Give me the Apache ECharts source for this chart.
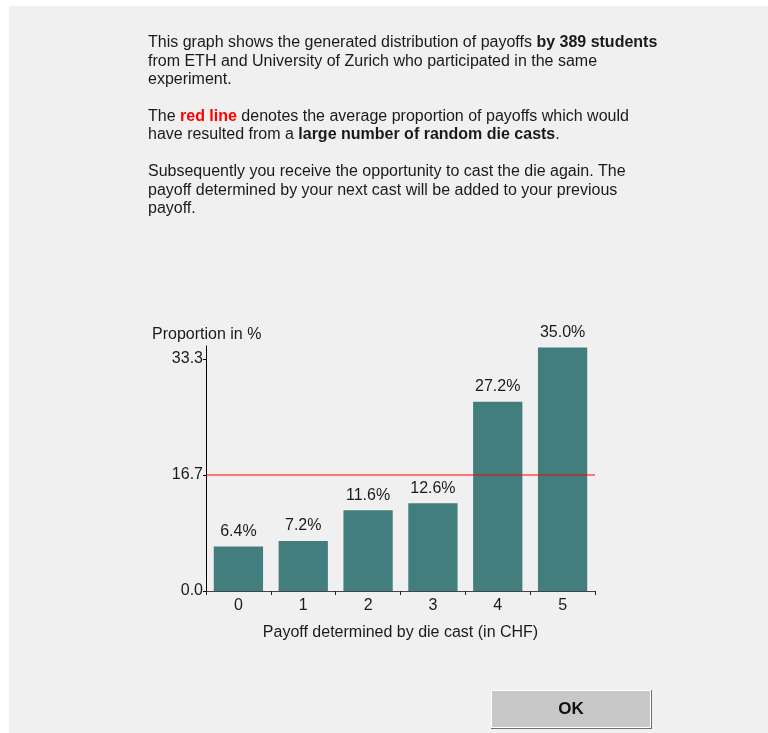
<!DOCTYPE html>
<html>
<head>
<meta charset="utf-8">
<script src="https://cdn.jsdelivr.net/npm/echarts@6/dist/echarts.min.js"></script>
<style>
  html, body { margin: 0; padding: 0; background: #ffffff; }
  #chart { width: 768px; height: 733px; }
</style>
</head>
<body>
<div id="chart"></div>
<script>
// Payoff categories (CHF) and observed share of students per payoff
const payoffs = ['0', '1', '2', '3', '4', '5'];
const proportions = [6.4, 7.2, 11.6, 12.6, 27.2, 35.0];
// Expected share for a fair die and the y-axis tick values
const fairShare = 100 / 6;
const yTicks = [0, 100 / 6, 100 / 3];

const FONT = '"Liberation Sans", Arial, sans-serif';
const TXT = '#1a1a1a';
const FS = 16;

const chart = echarts.init(document.getElementById('chart'), null, { renderer: 'canvas' });

const option = {
  backgroundColor: '#ffffff',
  animation: false,
  textStyle: { fontFamily: FONT },
  grid: { left: 206, right: 173, top: 346, bottom: 142, containLabel: false },
  xAxis: [{
    type: 'category',
    data: payoffs,
    name: 'Payoff determined by die cast (in CHF)',
    nameLocation: 'middle',
    nameGap: 34,
    nameTextStyle: { fontSize: FS, color: TXT, fontFamily: FONT },
    axisLine: { lineStyle: { color: '#444', width: 1 } },
    axisTick: { show: true, length: 4, alignWithLabel: false, lineStyle: { color: '#222' } },
    axisLabel: { fontSize: FS, color: TXT, margin: 7, fontFamily: FONT }
  }, {
    // hidden linear axis spanning the full plot width, used by the reference line
    type: 'value', min: 0, max: 1, show: false
  }],
  yAxis: {
    type: 'value',
    min: 0,
    max: 35.2,
    splitLine: { show: false },
    axisLine: { show: true, lineStyle: { color: '#000', width: 1 } },
    axisTick: { show: true, length: 3, customValues: yTicks, lineStyle: { color: '#000' } },
    axisLabel: {
      fontSize: FS, color: TXT, margin: 3, fontFamily: FONT,
      customValues: yTicks,
      formatter: v => v.toFixed(1)
    }
  },
  series: [{
    type: 'bar',
    data: proportions,
    barCategoryGap: '24%',
    itemStyle: { color: '#417e7d' },
    label: {
      show: true,
      position: 'top',
      distance: 7,
      fontSize: FS,
      color: TXT,
      fontFamily: FONT,
      formatter: p => p.value.toFixed(1) + '%'
    }
  }, {
    // average share for a fair die
    type: 'line',
    xAxisIndex: 1,
    data: [[0, fairShare], [1, fairShare]],
    symbol: 'none',
    silent: true,
    z: 5,
    lineStyle: { color: '#ff0000', width: 1 },
    itemStyle: { color: '#ff0000' }
  }],
  graphic: [
    // light grey dialog panel
    { type: 'rect', z: -10, shape: { x: 9, y: 6, width: 759, height: 727 }, style: { fill: '#f0f0f0' } },
    // explanatory text
    {
      type: 'text', left: 148, top: 35,
      style: {
        rich: {
          n: { fontSize: FS, fill: TXT, fontFamily: FONT, lineHeight: 18.4 },
          b: { fontSize: FS, fill: TXT, fontFamily: FONT, fontWeight: 'bold', lineHeight: 18.4 },
          r: { fontSize: FS, fill: '#ff0000', fontFamily: FONT, fontWeight: 'bold', lineHeight: 18.4 }
        },
        text: [
          '{n|This graph shows the generated distribution of payoffs }{b|by 389 students}',
          '{n|from ETH and University of Zurich who participated in the same}',
          '{n|experiment.}',
          '{n| }',
          '{n|The }{r|red line}{n| denotes the average proportion of payoffs which would}',
          '{n|have resulted from a }{b|large number of random die casts}{n|.}',
          '{n| }',
          '{n|Subsequently you receive the opportunity to cast the die again. The}',
          '{n|payoff determined by your next cast will be added to your previous}',
          '{n|payoff.}'
        ].join('\n')
      }
    },
    // y-axis title
    {
      type: 'text', left: 152, top: 327,
      style: { text: 'Proportion in %', fontSize: FS, fill: TXT, fontFamily: FONT }
    },
    // OK button
    {
      type: 'group', left: 491, top: 690,
      children: [
        { type: 'rect', shape: { x: 0, y: 0, width: 161, height: 39 }, style: { fill: '#6e6e6e' } },
        { type: 'rect', shape: { x: 0, y: 0, width: 160, height: 38 }, style: { fill: '#ffffff' } },
        { type: 'rect', shape: { x: 1, y: 1, width: 158, height: 36 }, style: { fill: '#c8c8c8' } },
        {
          type: 'text', x: 80, y: 19,
          style: { text: 'OK', fontSize: 17, fontWeight: 'bold', fill: '#111', fontFamily: FONT, align: 'center', verticalAlign: 'middle' }
        }
      ]
    }
  ]
};

chart.setOption(option);
</script>
</body>
</html>
